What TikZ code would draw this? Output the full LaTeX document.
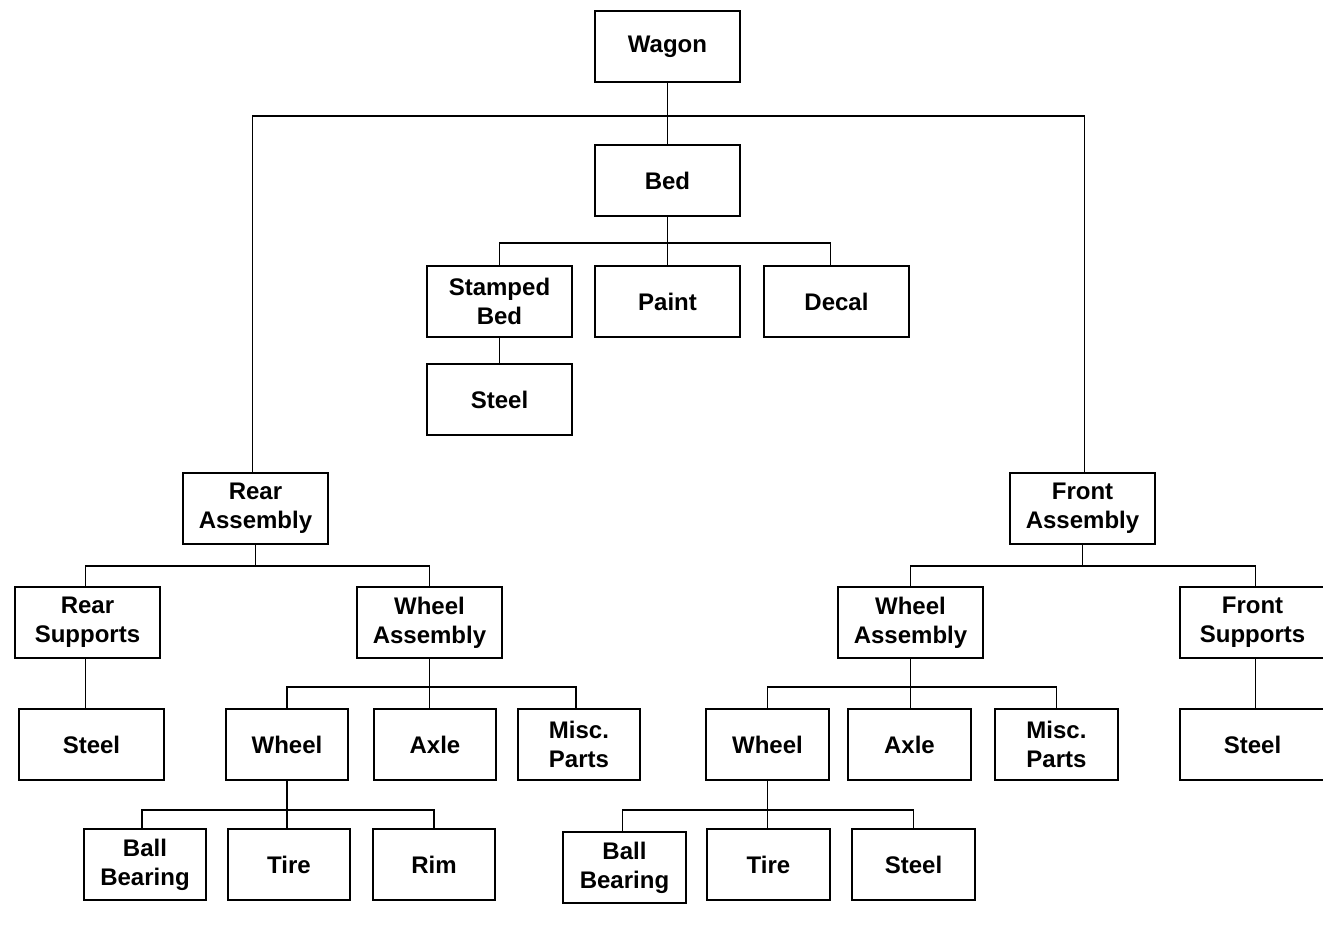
\documentclass[tikz,border=0pt]{standalone}
\usepackage{fontspec}
\setmainfont{Liberation Sans}
\usetikzlibrary{
  positioning,
}
\tikzset{
  part/.style={rectangle,draw,line width=1.6pt,outer sep=0pt,minimum width=145.5,minimum height=71.5,
    align=center,font=\bfseries\fontsize{24}{29}\selectfont},
  smallpart/.style={part,minimum width=122.5},
}

\begin{document}
\begin{tikzpicture}[node distance=0pt and 0pt,line width=1.6pt]

        \useasboundingbox (-667.5pt,46.5pt) rectangle (655.5pt,-887.5pt);

        % top of the tree
        \node[part] (wagon) {Wagon};
        \node[part] (bed) [below=62.5pt of wagon] {Bed};
        \node[part] (paint) [below=49.5pt of bed] {Paint};
        \node[part] (stamped) [left=22.5pt of paint] {Stamped\\Bed};
        \node[part] (decal) [right=23.5pt of paint] {Decal};
        \node[part] (bedsteel) [below=26.5pt of stamped] {Steel};

        \node[part,xshift=-244] (rear) [below=37.5pt of bedsteel] {Rear\\Assembly};
        \node[part] (front) [right=681.5pt of rear] {Front\\Assembly};

        % assemblies
        \node[part,xshift=-168] (rearsup) [below=42.5pt of rear] {Rear\\Supports};
        \node[part] (rearwheelasm) [right=196.5pt of rearsup] {Wheel\\Assembly};
        \node[part,xshift=-172] (frontwheelasm) [below=42.5pt of front] {Wheel\\Assembly};
        \node[part] (frontsup) [right=196.5pt of frontwheelasm] {Front\\Supports};

        \node[part,xshift=4] (rearsupsteel) [below=50.5pt of rearsup] {Steel};
        \node[smallpart,xshift=-142.5] (rearwheel) [below=50.5pt of rearwheelasm] {Wheel};
        \node[smallpart] (rearaxle) [right=25.5pt of rearwheel] {Axle};
        \node[smallpart] (rearmisc) [right=21.5pt of rearaxle] {Misc.\\Parts};
        \node[smallpart,xshift=-143] (frontwheel) [below=50.5pt of frontwheelasm] {Wheel};
        \node[smallpart] (frontaxle) [right=19.5pt of frontwheel] {Axle};
        \node[smallpart] (frontmisc) [right=24.5pt of frontaxle] {Misc.\\Parts};
        \node[part] (frontsupsteel) [below=50.5pt of frontsup] {Steel};

        % wheels
        \node[smallpart,xshift=-142] (rearball) [below=48.5pt of rearwheel] {Ball\\Bearing};
        \node[smallpart] (reartire) [right=21.5pt of rearball] {Tire};
        \node[smallpart] (rearrim) [right=22.5pt of reartire] {Rim};
        \node[smallpart,xshift=1] (fronttire) [below=48.5pt of frontwheel] {Tire};
        \node[smallpart,yshift=-3] (frontball) [left=21.5pt of fronttire] {Ball\\Bearing};
        \node[smallpart] (frontsteel) [right=22.5pt of fronttire] {Steel};

        \draw (wagon.south) -- ++(0,-34pt) coordinate (wagonbar) -- (bed.north);
        \draw ([xshift=-3]rear.north) |- (wagonbar) -| ([xshift=2]front.north);

        \draw (bed.south) -- ++(0,-27pt) coordinate (bedbar) -- (paint.north);
        \draw (stamped.north) |- (bedbar) -| ([xshift=-6]decal.north);
        \draw (stamped.south) -- (bedsteel.north);

        \draw (rear.south) -- ++(0,-22pt) coordinate (rearbar);
        \draw ([xshift=-2]rearsup.north) |- (rearbar) -| (rearwheelasm.north);
        \draw ([xshift=-2]rearsup.south) -- ([xshift=-2]rearsup.south |- rearsupsteel.north);

        \draw (front.south) -- ++(0,-22pt) coordinate (frontbar);
        \draw (frontwheelasm.north) |- (frontbar) -| ([xshift=3]frontsup.north);
        \draw ([xshift=3]frontsup.south) -- ([xshift=3]frontsupsteel.north);

        \draw (rearwheelasm.south) -- ++(0,-29pt) coordinate (rearwheelbar);
        \draw (rearwheel.north) |- (rearwheelbar) -| ([xshift=-3]rearmisc.north);
        \draw (rearwheelbar) -- (rearwheelbar |- rearaxle.north);

        \draw (frontwheelasm.south) -- ++(0,-29pt) coordinate (frontwheelbar);
        \draw (frontwheel.north) |- (frontwheelbar) -| (frontmisc.north);
        \draw (frontwheelbar) -- (frontwheelbar |- frontaxle.north);

        \draw (rearwheel.south) -- ++(0,-30pt) coordinate (rearhubbar);
        \draw ([xshift=-3]rearball.north) |- (rearhubbar) -| (rearrim.north);
        \draw (rearhubbar) -- (rearhubbar |- reartire.north);

        \draw (frontwheel.south) -- ++(0,-30pt) coordinate (fronthubbar);
        \draw ([xshift=-2]frontball.north) |- (fronthubbar) -| (frontsteel.north);
        \draw (fronthubbar) -- (fronthubbar |- fronttire.north);

      \end{tikzpicture}
\end{document}
